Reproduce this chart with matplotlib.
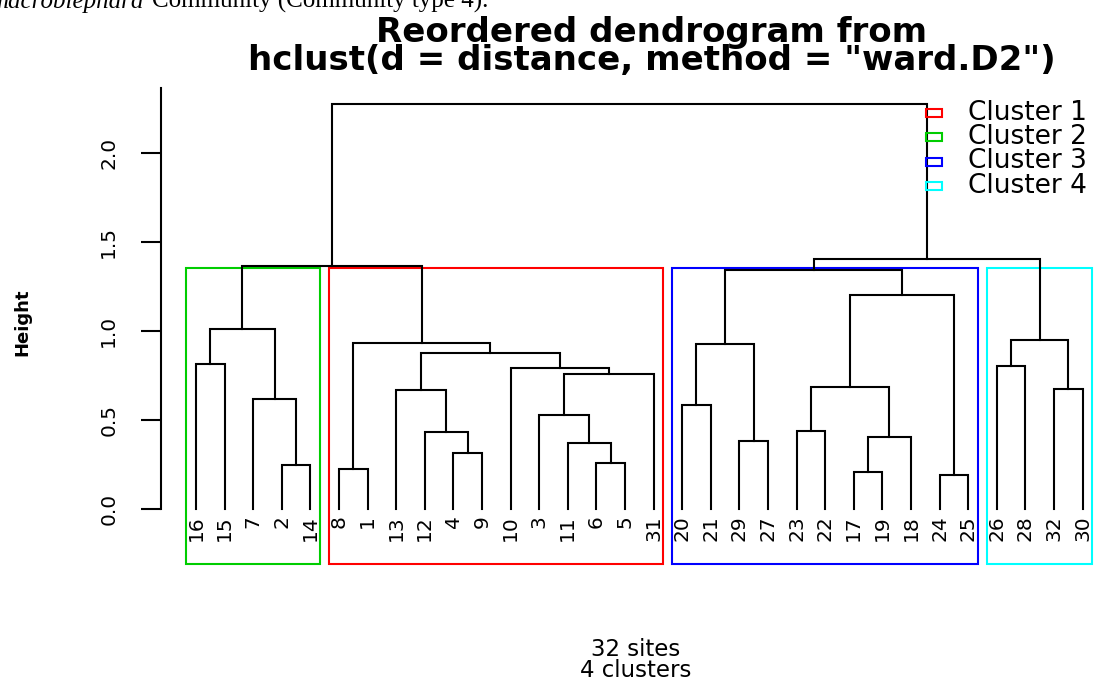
import matplotlib
matplotlib.use("Agg")
from matplotlib import pyplot as plt
from matplotlib.patches import Rectangle

# leaves in the order they are drawn (left to right)
leaf_order = [16, 15, 7, 2, 14, 8, 1, 13, 12, 4, 9, 10, 3, 11, 6, 5, 31,
              20, 21, 29, 27, 23, 22, 17, 19, 18, 24, 25, 26, 28, 32, 30]

# hclust-like merge table: negative = site number, positive = earlier merge step
merge_a = [-24, -17, -8, -2, -6, -4, -11, -29, 2, -12, -23, -3, -20, -7, -13, -32,
           11, 12, -10, -26, -16, 15, 13, 3, 20, 21, 17, 23, 26, 28, 29]
merge_b = [-25, -19, -1, -14, -5, -9, 5, -27, -18, 6, -22, 7, -21, 4, 10, -30,
           9, -31, 18, -28, -15, 19, 8, 22, 16, 14, 1, 27, 24, 25, 30]
heights = [0.191, 0.206, 0.226, 0.249, 0.257, 0.315, 0.371, 0.382, 0.404, 0.434,
           0.440, 0.528, 0.583, 0.620, 0.669, 0.674, 0.684, 0.760, 0.790, 0.802,
           0.816, 0.875, 0.925, 0.933, 0.948, 1.010, 1.202, 1.343, 1.367, 1.408, 2.275]

# clusters as they appear from left to right
cluster_sizes = [5, 12, 11, 4]
cluster_colors = ['#00CD00', '#FF0000', '#0000FF', '#00FFFF']

legend_labels = ['Cluster 1', 'Cluster 2', 'Cluster 3', 'Cluster 4']
legend_colors = ['#FF0000', '#00CD00', '#0000FF', '#00FFFF']

y_ticks = [0.0, 0.5, 1.0, 1.5, 2.0]
y_ticklabels = ['0.0', '0.5', '1.0', '1.5', '2.0']

W, H = 1101, 681
def fx(x):
    return x / W
def fy(y):
    return 1 - y / H

fig = plt.figure(figsize=(W / 100, H / 100), dpi=100)
# plot region in pixels: left 160.5, right 1118, top 82, bottom 564
ax = fig.add_axes([fx(160.5), fy(564), (1118 - 160.5) / W, (564 - 82) / H])
ax.set_xlim(-0.24, 33.24)
ax.set_ylim(-0.309, 2.40)

pos = {lab: i + 1 for i, lab in enumerate(leaf_order)}
node_x = []
node_h = []

def node(k):
    if k < 0:
        return pos[-k], 0.0
    return node_x[k - 1], node_h[k - 1]

for a, b, h in zip(merge_a, merge_b, heights):
    xa, ha = node(a)
    xb, hb = node(b)
    ax.plot([xa, xa, xb, xb], [ha, h, h, hb], color='black', lw=1.5,
            solid_joinstyle='miter', clip_on=False)
    node_x.append((xa + xb) / 2)
    node_h.append(h)

# leaf labels
for lab in leaf_order:
    ax.text(pos[lab], -0.035, str(lab), rotation=90, ha='center', va='top',
            fontsize=14.5, family='DejaVu Sans')

# cluster rectangles (like rect.hclust)
top_h = sorted(heights)[::-1]
rect_top = (top_h[2] + top_h[3]) / 2
start = 0
for size, col in zip(cluster_sizes, cluster_colors):
    left = start + 0.66
    right = start + size + 0.33
    ax.add_patch(Rectangle((left, -0.309), right - left, rect_top + 0.309,
                           fill=False, edgecolor=col, lw=1.5, clip_on=False))
    start += size

# axes
for s in ['top', 'right', 'bottom']:
    ax.spines[s].set_visible(False)
ax.spines['left'].set_bounds(0, 2.365)
ax.spines['left'].set_linewidth(1.5)
ax.set_xticks([])
ax.set_yticks(y_ticks, y_ticklabels, rotation=90, va='center', fontsize=14.5)
ax.tick_params(axis='y', length=14.4, width=1.5, pad=16)

# legend
leg_y = [112.5, 137, 161.5, 186]
for lab, col, yy in zip(legend_labels, legend_colors, leg_y):
    fig.add_artist(Rectangle((fx(926), fy(yy + 4)), 16 / W, 8 / H, fill=False,
                             edgecolor=col, lw=1.5, transform=fig.transFigure))
    fig.text(fx(968), fy(yy), lab, fontsize=19, va='center', ha='left')

# titles and labels
fig.text(fx(652), fy(42), 'Reordered dendrogram from', fontsize=24.5,
         fontweight='bold', ha='center', va='baseline')
fig.text(fx(652), fy(70), 'hclust(d = distance, method = "ward.D2")', fontsize=24.5,
         fontweight='bold', ha='center', va='baseline')
fig.text(fx(22), fy(322), 'Height', rotation=90, fontsize=13, fontweight='bold',
         ha='center', va='center')
fig.text(fx(636), fy(656), '32 sites', fontsize=16.5, ha='center', va='baseline')
fig.text(fx(636), fy(677), '4 clusters', fontsize=16.5, ha='center', va='baseline')

# caption of the page, cut off at the top edge
fig.text(fx(-10), fy(8), 'macroblephara', fontsize=18, family='Liberation Serif',
         style='italic', ha='left', va='baseline')
fig.text(fx(152), fy(8), 'Community (Community type 4).', fontsize=18,
         family='Liberation Serif', ha='left', va='baseline')

fig.savefig('out.png', dpi=100)
